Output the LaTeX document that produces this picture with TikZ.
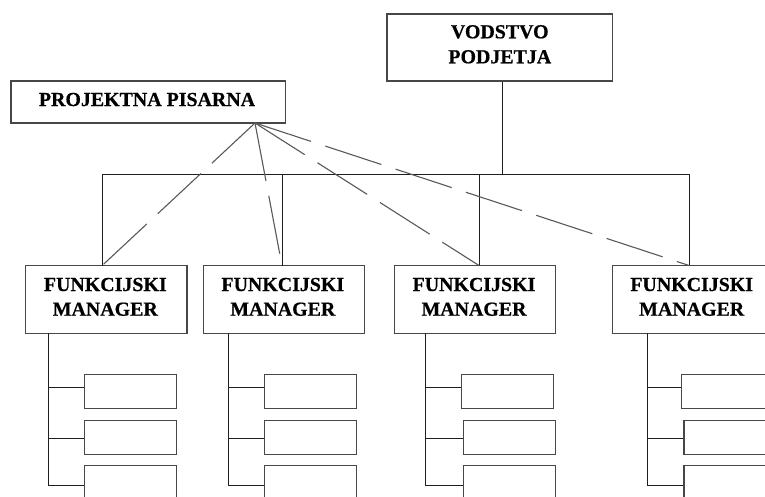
\documentclass[tikz,border=0pt]{standalone}
\usepackage{fontspec}
\setmainfont{Liberation Serif}[BoldFeatures={FakeBold=0.6}]
\begin{document}
\begin{tikzpicture}[x=1pt,y=-1pt,
  box/.style={draw=black!72,line width=1.1pt,fill=white,inner sep=0pt},
  topbox/.style={box,minimum width=225.7pt,minimum height=67pt},
  ppbox/.style={box,minimum width=274.7pt,minimum height=42pt},
  mgrbox/.style={box,minimum width=161.3pt,minimum height=67.6pt},
  childbox/.style={box,minimum width=91.6pt,minimum height=34pt},
  lastbox/.style={box,minimum width=91.6pt,minimum height=39.4pt},
  lbl/.style={font=\fontsize{19.9}{24}\selectfont\bfseries,inner sep=0pt,anchor=base},
  conn/.style={draw=black!88,line width=1pt},
  dsh/.style={draw=black!65,line width=1.1pt,dash pattern=on 59pt off 15pt}]
\useasboundingbox (0,0) rectangle (765,496);
\clip (0,0) rectangle (765,496);
\fill[white] (0,0) rectangle (765,496);

% top management and project office
\node[topbox] (v) at (499.8,47.5) {};
\node[lbl] (vt1) at (v.center |- 0,38.3) {VODSTVO};
\node[lbl] (vt2) at (v.center |- 0,63.3) {PODJETJA};
\node[ppbox] (pp) at (148.3,102) {};
\node[lbl] (ppt) at (147,106) {PROJEKTNA PISARNA};

% functional managers
\foreach \i/\cx in {1/106.3,2/283.8,3/475,4/692.7}{
  \node[mgrbox] (m\i) at (\cx,299.5) {};
  \node[lbl] (m\i a) at ([xshift=-1pt]m\i.center |- 0,291) {FUNKCIJSKI};
  \node[lbl] (m\i b) at ([xshift=-1pt]m\i.center |- 0,315.7) {MANAGER};
}

% attachment points on the managers and the horizontal bus
\coordinate (bus) at (502.3,174);
\coordinate (t1) at (102,265.7);
\coordinate (t2) at (282,265.7);
\coordinate (t3) at (479.3,265.7);
\coordinate (t4) at (689.7,265.7);
\coordinate (ppa) at (255,123);

\draw[conn] (v.south -| bus) -- (bus);
\draw[conn] (t1) -- (t1 |- bus) -- (t4 |- bus) -- (t4);
\draw[conn] (t2 |- bus) -- (t2);
\draw[conn] (t3 |- bus) -- (t3);

% dashed links from the project office
\foreach \k in {1,2,3,4}{
  \draw[dsh] (ppa) -- (t\k);
}

% subordinate units under each manager
\foreach \i/\sx/\ax/\bx in {1/48.7/130.65/130.65,2/228.3/310.3/310.3,3/425.7/507.5/509.5,4/647.7/727.5/729.8}{
  \coordinate (s\i) at (\sx,333.3);
  \node[childbox] (c\i a) at (\ax,391.3) {};
  \node[childbox] (c\i b) at (\bx,437.3) {};
  \node[lastbox]  (c\i c) at (\bx,485) {};
  \draw[conn] (s\i) -- (s\i |- c\i c.west) -- (c\i c.west);
  \draw[conn] ([yshift=-1pt]s\i |- c\i b.west) -- ([yshift=-1pt]c\i b.west);
  \draw[conn] ([yshift=4pt]s\i |- c\i a.west) -- ([yshift=4pt]c\i a.west);
}
\end{tikzpicture}
\end{document}
